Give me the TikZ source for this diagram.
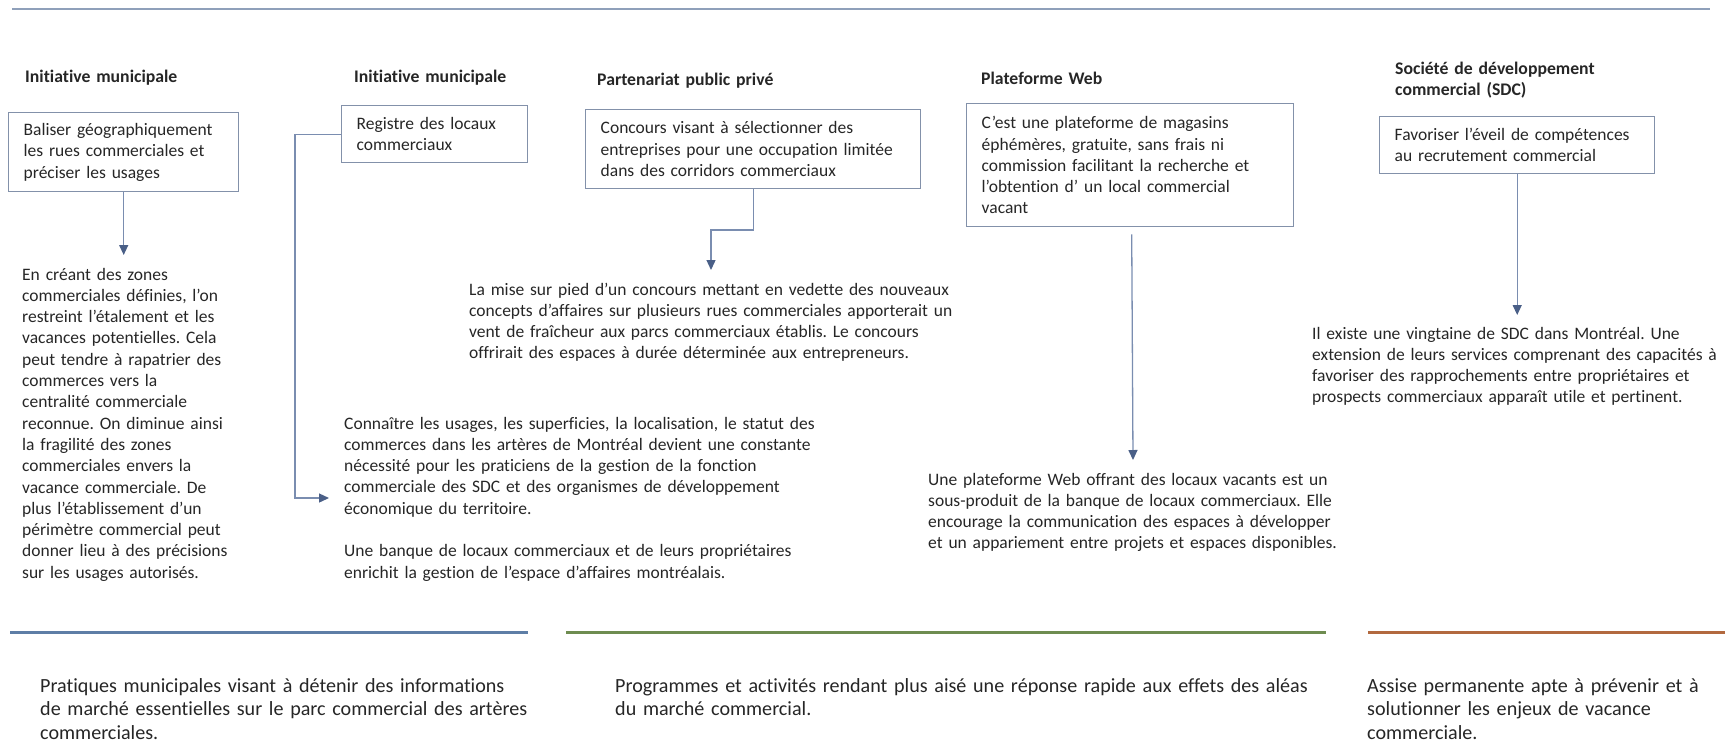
\documentclass[tikz,border=0pt]{standalone}
\usepackage{fontspec}
\setmainfont{Carlito}[Ligatures=CommonOff]
\usetikzlibrary{arrows.meta}
\frenchspacing

\definecolor{txt}{HTML}{262626}
\definecolor{boxc}{HTML}{8391AA}
\definecolor{linec}{HTML}{7A8DB0}
\definecolor{arrc}{HTML}{4A5F87}
\definecolor{topc}{HTML}{8FA0BA}
\definecolor{bandblue}{HTML}{5E7EA6}
\definecolor{bandgreen}{HTML}{6E8C50}
\definecolor{bandorange}{HTML}{B2693F}

\newcommand{\bodyfont}{\fontsize{17.5}{21.3}\selectfont}
\newcommand{\headfont}{\fontsize{17.7}{21.3}\selectfont\bfseries}
\newcommand{\footfont}{\fontsize{20.1}{23.5}\selectfont}

\tikzset{
  box/.style={draw=boxc, line width=1.4pt, anchor=north west, inner xsep=15pt,
    inner ysep=0pt, align=left, font=\bodyfont, text=txt},
  body/.style={anchor=base west, inner sep=0pt, align=left, text width=720pt,
    font=\bodyfont, text=txt},
  head/.style={anchor=base west, inner sep=0pt, align=left, text width=400pt,
    font=\headfont, text=txt},
  foot/.style={anchor=base west, inner sep=0pt, align=left, text width=720pt,
    font=\footfont, text=txt},
  conn/.style={draw=linec, line width=1.3pt,
    -{Triangle[length=10pt,width=9pt,color=arrc,fill=arrc]}},
  band/.style={line width=3pt},
}

\begin{document}
\begin{tikzpicture}[x=1pt,y=-1pt]
\useasboundingbox (0,0) rectangle (1728,742);

% rule along the top
\draw[topc, line width=1.5pt] (12,9) -- (1710,9);

% column headings
\node[head] (h1) at (25,82) {Initiative municipale};
\node[head] (h2) at (354,82) {Initiative municipale};
\node[head] (h3) at (597,85) {Partenariat public privé};
\node[head] (h4) at (981,84) {Plateforme Web};
\node[head] (h5) at (1395,74) {Société de développement\\commercial (SDC)};

% action boxes
\node[box, text width=200pt, minimum height=79pt] (b1) at (8,112)
  {Baliser géographiquement\\les rues commerciales et\\préciser les usages};
\node[box, text width=156pt, minimum height=57pt] (b2) at (341,105)
  {Registre des locaux\\commerciaux};
\node[box, text width=305pt, minimum height=79pt] (b3) at (585,109)
  {Concours visant à sélectionner des\\entreprises pour une occupation limitée\\dans des corridors commerciaux};
\node[box, text width=297pt, minimum height=123pt] (b4) at (966,103)
  {C’est une plateforme de magasins\\éphémères, gratuite, sans frais ni\\commission facilitant la recherche et\\l’obtention d’ un local commercial\\vacant};
\node[box, text width=245pt, minimum height=57pt] (b5) at (1379,116)
  {Favoriser l’éveil de compétences\\au recrutement commercial};

% explanatory texts
\node[body] (t1) at (22,280)
  {En créant des zones\\commerciales définies, l’on\\restreint l’étalement et les\\vacances potentielles. Cela\\peut tendre à rapatrier des\\commerces vers la\\centralité commerciale\\reconnue. On diminue ainsi\\la fragilité des zones\\commerciales envers la\\vacance commerciale. De\\plus l’établissement d’un\\périmètre commercial peut\\donner lieu à des précisions\\sur les usages autorisés.};
\node[body] (t2) at (344,429)
  {Connaître les usages, les superficies, la localisation, le statut des\\commerces dans les artères de Montréal devient une constante\\nécessité pour les praticiens de la gestion de la fonction\\commerciale des SDC et des organismes de développement\\économique du territoire.\\[21.3pt]Une banque de locaux commerciaux et de leurs propriétaires\\enrichit la gestion de l’espace d’affaires montréalais.};
\node[body] (t3) at (469,295)
  {La mise sur pied d’un concours mettant en vedette des nouveaux\\concepts d’affaires sur plusieurs rues commerciales apporterait un\\vent de fraîcheur aux parcs commerciaux établis. Le concours\\offrirait des espaces à durée déterminée aux entrepreneurs.};
\node[body] (t4) at (928,485)
  {Une plateforme Web offrant des locaux vacants est un\\sous-produit de la banque de locaux commerciaux. Elle\\encourage la communication des espaces à développer\\et un appariement entre projets et espaces disponibles.};
\node[body] (t5) at (1312,339)
  {Il existe une vingtaine de SDC dans Montréal. Une\\extension de leurs services comprenant des capacités à\\favoriser des rapprochements entre propriétaires et\\prospects commerciaux apparaît utile et pertinent.};

% arrow ends
\coordinate (e1) at (124,255);
\coordinate (k2) at (295,498);
\coordinate (e2) at (329,498);
\coordinate (k3) at (711,230);
\coordinate (e3) at (711,270);
\coordinate (e4) at (1133,460);
\coordinate (e5) at (b5.south |- 0,315);

% connectors
\draw[conn] (b1.south) -- (b1.south |- e1);
\draw[conn] (b2.west) -| (k2) -- (e2);
\draw[conn] (b3.south) |- (k3) -- (e3);
\draw[conn] ([shift={(1.5,7)}]b4.south) -- (e4);
\draw[conn] (b5.south) -- (e5);

% bottom bands
\draw[band, bandblue] (10,632) -- (528,632);
\draw[band, bandgreen] (566,632) -- (1326,632);
\draw[band, bandorange] (1368,632) -- (1725,632);

% summaries under the bands
\node[foot] (f1) at (40,692)
  {Pratiques municipales visant à détenir des informations\\de marché essentielles sur le parc commercial des artères\\commerciales.};
\node[foot] (f2) at (615,692)
  {Programmes et activités rendant plus aisé une réponse rapide aux effets des aléas\\du marché commercial.};
\node[foot] (f3) at (1367,692)
  {Assise permanente apte à prévenir et à\\solutionner les enjeux de vacance\\commerciale.};
\end{tikzpicture}
\end{document}
